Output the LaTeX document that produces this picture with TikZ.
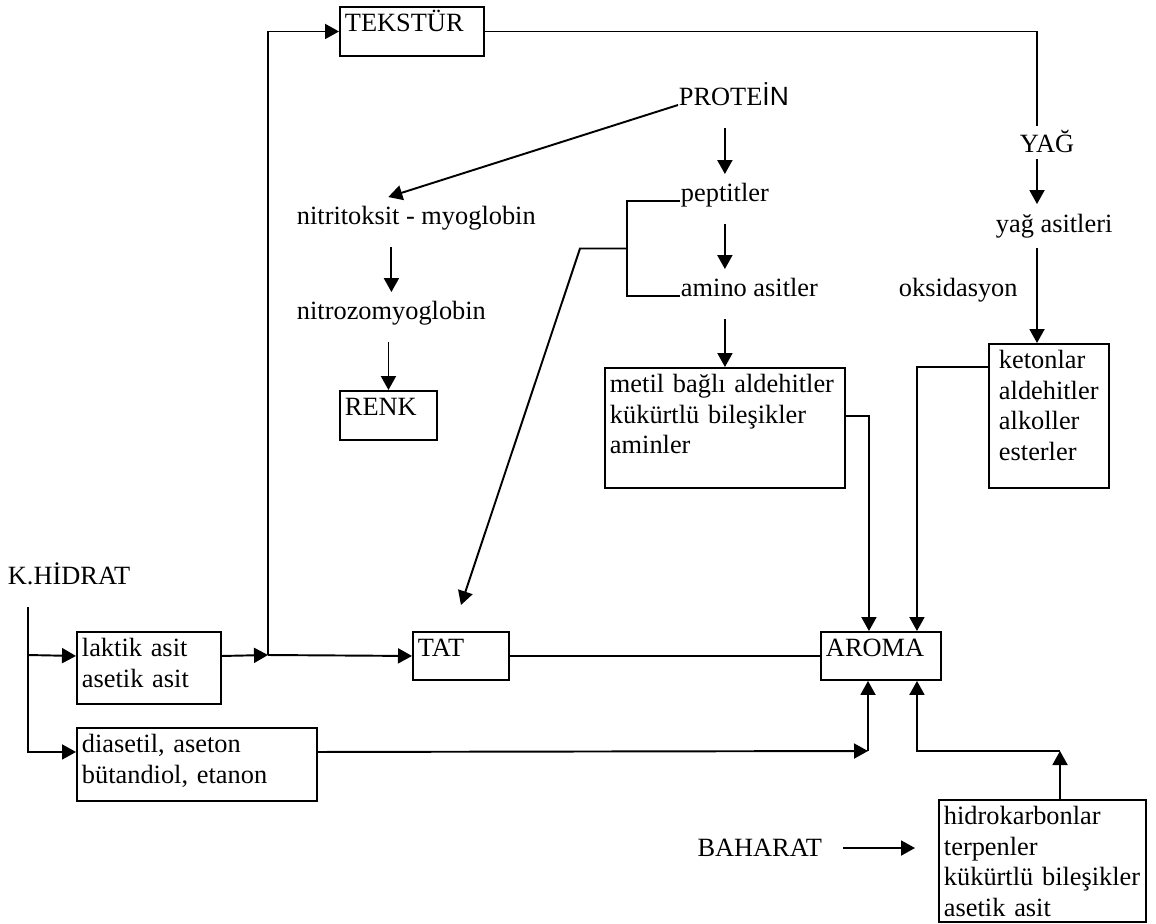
\documentclass[tikz,border=0pt]{standalone}
\usepackage{fontspec}
\setmainfont{Liberation Serif}
\newfontfamily\duzyazi{Liberation Sans}
\usetikzlibrary{arrows.meta}

\begin{document}
\begin{tikzpicture}[>={Triangle[length=0.28cm,width=0.3cm]},line width=1.1pt]
 \tikzstyle{kutu}=[draw=black,anchor=north west,align=left,
   inner xsep=0.1cm,inner ysep=0.06cm,text height=0.44cm,
   font=\fontsize{15}{17.3}\selectfont]
 \tikzstyle{yazi}=[anchor=base west,inner sep=0pt,text height=0.52cm,
   text depth=0.44cm,font=\fontsize{15}{17.3}\selectfont]
 \useasboundingbox (0,0) rectangle (23.12,-18.46);

 % kutular
 \node (tekstur) [kutu,text width=2.68cm,text depth=0.42cm] at (6.78,-0.12) {TEKSTÜR};
 \node (renk) [kutu,text width=1.74cm,text depth=0.42cm] at (6.78,-7.80) {RENK};
 \node (metil) [kutu,text width=4.6cm,text depth=1.84cm] at (12.08,-7.34)
   {metil bağlı aldehitler\\kükürtlü bileşikler\\aminler};
 \node (keton) [kutu,inner xsep=0.2cm,text width=2.0cm,text depth=2.32cm] at (19.76,-6.86)
   {ketonlar\\aldehitler\\alkoller\\esterler};
 \node (laktik) [kutu,text width=2.68cm,text depth=0.88cm] at (1.52,-12.62)
   {laktik asit\\asetik asit};
 \node (diasetil) [kutu,text width=4.6cm,text depth=0.9cm] at (1.52,-14.54)
   {diasetil, aseton\\bütandiol, etanon};
 \node (tat) [kutu,text width=1.72cm,text depth=0.4cm] at (8.24,-12.62) {TAT};
 \node (aroma) [kutu,text width=2.2cm,text depth=0.4cm] at (16.40,-12.62) {AROMA};
 \node (hidro) [kutu,text width=3.94cm,text depth=1.88cm] at (18.76,-15.98)
   {hidrokarbonlar\\terpenler\\kükürtlü bileşikler\\asetik asit};

 % yazilar
 \node (protein) [yazi] at (13.56,-2.10) {PROTE{\duzyazi İN}};
 \node (yag) [yazi,text height=0.5cm,text depth=0.12cm] at (20.38,-3.04) {YAĞ};
 \node (peptit) [yazi] at (13.6,-4.02) {peptitler};
 \node (yagasit) [yazi,text height=0.54cm,text depth=0.3cm] at (19.9,-4.64) {yağ asitleri};
 \node (nitrit) [yazi] at (5.92,-4.48) {nitritoksit - myoglobin};
 \node (amino) [yazi] at (13.6,-5.92) {amino asitler};
 \node (oksi) [yazi] at (17.96,-5.92) {oksidasyon};
 \node (nitrozo) [yazi] at (5.92,-6.38) {nitrozomyoglobin};
 \node (khidrat) [yazi] at (0.14,-11.68) {K.HİDRAT};
 \node (baharat) [yazi,anchor=base east] at (16.46,-17.12) {BAHARAT};

 \coordinate (yagcizgi) at (20.74,0);
 \coordinate (kavsak) at (5.36,-13.1);
 \coordinate (khalt) at (0.56,-12.14);
 \coordinate (dkose) at (17.36,-15.02);
 \coordinate (hkose) at (21.2,-15.02);

 % yag kolu
 \draw (tekstur.east) -| (yagcizgi |- yag.north);
 \draw[->] (yagcizgi |- yag.south) -- (yagcizgi |- yagasit.north);
 \draw[->] (yagcizgi |- yagasit.south) -- (yagcizgi |- keton.north);

 % protein kolu
 \draw[->] (protein.base west) -- ([xshift=-0.56cm]nitrit.north);
 \draw[->] (peptit.north |- protein.south) -- (peptit.north);
 \draw[->] (peptit.south) -- (peptit.south |- amino.north);
 \draw[->] (metil.north |- amino.south) -- (metil.north);
 \draw (peptit.base west) -- ++(-1.06,0) coordinate (catal) |- (amino.base west);
 \draw[->] (catal) ++(0,-0.95) -- ++(-0.94,0) -- ([yshift=0.52cm]tat.north);
 \draw[->] (nitrozo.north |- nitrit.south) -- (nitrozo.north);
 \draw[->] (renk.north |- nitrozo.south) -- (renk.north);

 % aromaya gelenler
 \draw[->] ([yshift=0.24cm]metil.east) -| ([xshift=-0.24cm]aroma.north);
 \draw[->] ([yshift=-0.48cm]keton.north west) -| ([xshift=0.72cm]aroma.north);
 \draw (tat.east) -- (aroma.west);

 % k.hidrat kolu
 \draw[->] (khalt) |- ([yshift=0.25cm]diasetil.west);
 \draw[->] (khalt |- kavsak) -- ([yshift=0.24cm]laktik.west);
 \draw[->] ([yshift=0.24cm]laktik.east) -- (kavsak);
 \draw[->] (kavsak) -- (tat.west);
 \draw[->] (kavsak) |- (tekstur.west);
 \draw[->] ([yshift=0.25cm]diasetil.east) -- (dkose);
 \draw[->] (dkose) -- (dkose |- aroma.south);

 % baharat
 \draw[->] (hkose |- hidro.north) -- (hkose);
 \draw[->] (hkose) -| ([xshift=0.72cm]aroma.south);
 \draw[->] ([xshift=0.4cm,yshift=0.12cm]baharat.east) -- ++(1.44,0);
\end{tikzpicture}
\end{document}
